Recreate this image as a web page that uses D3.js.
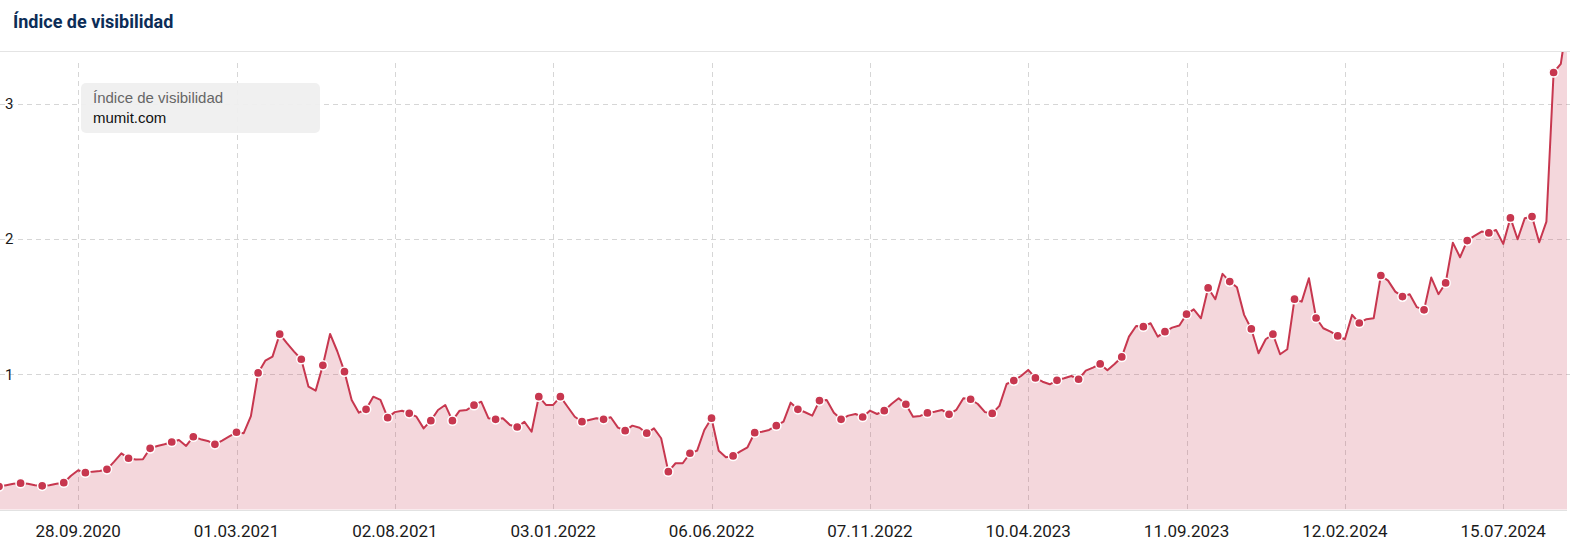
<!DOCTYPE html>
<html lang="es">
<head>
<meta charset="UTF-8">
<title>Índice de visibilidad</title>
<style>
    body { margin: 0; background: #fff; }
    .title { font: bold 18px Roboto, sans-serif; fill: #0c2d57; }
    .tick-label { font: 17px Roboto, sans-serif; fill: #1a1a1a; }
    .grid { stroke: #d6d6d6; stroke-width: 1px; stroke-dasharray: 5 4; }
    .area { fill: #c7374f; fill-opacity: 0.2; }
    .line { fill: none; stroke: #c7374f; stroke-width: 2px; stroke-linejoin: round; }
    .dot { fill: #c7374f; stroke: #fff; stroke-width: 1.5px; }
    .legend-name { font: 15px "Liberation Sans", Arial, sans-serif; fill: #666; }
    .legend-domain { font: 15px "Liberation Sans", Arial, sans-serif; fill: #111; }
</style>
</head>
<body>
<div id="chart"></div>
<script src="https://cdn.jsdelivr.net/npm/d3@7"></script>
<script>
    // weekly visibility index, first week 13.07.2020
    const firstWeek = "13.07.2020";
    const values = [
        0.17, 0.18, 0.19, 0.195, 0.19, 0.18, 0.175, 0.18, 0.19, 0.198,
        0.25, 0.29, 0.272, 0.28, 0.285, 0.297, 0.354, 0.415, 0.379, 0.37,
        0.371, 0.452, 0.47, 0.482, 0.499, 0.514, 0.47, 0.538, 0.52, 0.507,
        0.482, 0.51, 0.54, 0.571, 0.564, 0.69, 1.01, 1.10, 1.13, 1.296,
        1.23, 1.167, 1.111, 0.908, 0.879, 1.066, 1.298, 1.17, 1.019, 0.81,
        0.716, 0.741, 0.834, 0.81, 0.679, 0.72, 0.73, 0.711, 0.686, 0.60,
        0.657, 0.736, 0.773, 0.657, 0.731, 0.736, 0.771, 0.797, 0.675, 0.667,
        0.675, 0.625, 0.61, 0.649, 0.575, 0.834, 0.773, 0.773, 0.834, 0.76,
        0.686, 0.649, 0.662, 0.675, 0.667, 0.682, 0.605, 0.583, 0.62, 0.605,
        0.564, 0.60, 0.527, 0.28, 0.342, 0.342, 0.416, 0.435, 0.588, 0.675,
        0.435, 0.386, 0.396, 0.43, 0.46, 0.568, 0.575, 0.588, 0.62, 0.65,
        0.79, 0.741, 0.719, 0.694, 0.805, 0.81, 0.716, 0.667, 0.694, 0.706,
        0.684, 0.731, 0.706, 0.731, 0.78, 0.822, 0.778, 0.686, 0.692, 0.714,
        0.723, 0.736, 0.704, 0.736, 0.822, 0.815, 0.78, 0.72, 0.71, 0.766,
        0.928, 0.953, 0.987, 1.032, 0.973, 0.945, 0.926, 0.955, 0.97, 0.987,
        0.963, 1.027, 1.049, 1.076, 1.03, 1.076, 1.128, 1.278, 1.357, 1.352,
        1.377, 1.278, 1.315, 1.345, 1.36, 1.444, 1.48, 1.414, 1.638, 1.555,
        1.742, 1.685, 1.643, 1.439, 1.335, 1.155, 1.259, 1.296, 1.148, 1.185,
        1.555, 1.537, 1.71, 1.416, 1.34, 1.315, 1.283, 1.259, 1.439, 1.379,
        1.407, 1.414, 1.73, 1.692, 1.611, 1.574, 1.592, 1.496, 1.476, 1.715,
        1.592, 1.675, 1.973, 1.865, 1.988, 2.023, 2.055, 2.045, 2.067, 1.964,
        2.156, 1.998, 2.154, 2.166, 1.976, 2.129, 3.231, 3.295, 3.65
    ];
    const xTickLabels = ["28.09.2020", "01.03.2021", "02.08.2021", "03.01.2022", "06.06.2022",
        "07.11.2022", "10.04.2023", "11.09.2023", "12.02.2024", "15.07.2024"];
    const yTicks = [1, 2, 3];
    const seriesName = "Índice de visibilidad";
    const domainName = "mumit.com";

    const width = 1570, height = 546;
    const plotTop = 51, plotBottom = 509.5, plotRight = 1567;

    const parse = d3.utcParse("%d.%m.%Y");
    const start = parse(firstWeek);
    const data = values.map((v, i) => ({ date: d3.utcDay.offset(start, 7 * i), value: v, dot: i % 3 === 0 }));

    const svg = d3.select("#chart").append("svg")
        .attr("width", width)
        .attr("height", height);

    const x = d3.scaleUtc()
        .domain([data[0].date, data[data.length - 1].date])
        .range([-1, 1568]);

    const y = d3.scaleLinear()
        .domain([0, 3.39])
        .range([plotBottom, plotTop]);

    // header
    svg.append("text").attr("class", "title")
        .attr("x", 13).attr("y", 28)
        .text("Índice de visibilidad");
    svg.append("line")
        .attr("x1", 0).attr("x2", width)
        .attr("y1", 51.5).attr("y2", 51.5)
        .attr("stroke", "#e4e4e4");

    svg.append("clipPath").attr("id", "plot-clip")
        .append("rect")
        .attr("x", 0).attr("y", plotTop + 1)
        .attr("width", plotRight).attr("height", plotBottom - plotTop);

    // grid
    svg.selectAll(".ygrid")
        .data(yTicks)
        .enter().append("line")
        .attr("class", "grid")
        .attr("x1", 0).attr("x2", width)
        .attr("y1", d => Math.round(y(d)) + 0.5)
        .attr("y2", d => Math.round(y(d)) + 0.5);

    const tickDates = xTickLabels.map(parse);
    svg.selectAll(".xgrid")
        .data(tickDates)
        .enter().append("line")
        .attr("class", "grid")
        .attr("x1", d => Math.round(x(d)) + 0.5)
        .attr("x2", d => Math.round(x(d)) + 0.5)
        .attr("y1", 63).attr("y2", plotBottom);

    const plot = svg.append("g").attr("clip-path", "url(#plot-clip)");

    plot.append("path")
        .datum(data)
        .attr("class", "area")
        .attr("d", d3.area()
            .x(d => x(d.date))
            .y0(plotBottom)
            .y1(d => y(d.value)));

    plot.append("path")
        .datum(data)
        .attr("class", "line")
        .attr("d", d3.line()
            .x(d => x(d.date))
            .y(d => y(d.value)));

    plot.selectAll(".dot")
        .data(data.filter(d => d.dot))
        .enter().append("circle")
        .attr("class", "dot")
        .attr("r", 4.6)
        .attr("cx", d => x(d.date))
        .attr("cy", d => y(d.value));

    // base line of the plot
    svg.append("line")
        .attr("x1", 0).attr("x2", plotRight)
        .attr("y1", 510.5).attr("y2", 510.5)
        .attr("stroke", "#e2e2e2");

    // axis labels
    svg.selectAll(".ylabel")
        .data(yTicks)
        .enter().append("text")
        .attr("class", "tick-label")
        .attr("x", 5)
        .attr("y", d => y(d))
        .attr("dy", "0.36em")
        .style("font-size", "15px")
        .text(d => d);

    svg.selectAll(".xlabel")
        .data(tickDates)
        .enter().append("text")
        .attr("class", "tick-label")
        .attr("x", d => x(d))
        .attr("y", 537)
        .attr("text-anchor", "middle")
        .text((d, i) => xTickLabels[i]);

    // legend box
    const legend = svg.append("g").attr("transform", "translate(81,83)");
    legend.append("rect")
        .attr("width", 239).attr("height", 50)
        .attr("rx", 5)
        .attr("fill", "#efefef")
        .attr("fill-opacity", 0.95);
    legend.append("text").attr("class", "legend-name")
        .attr("x", 12).attr("y", 20)
        .text(seriesName);
    legend.append("text").attr("class", "legend-domain")
        .attr("x", 12).attr("y", 39.5)
        .text(domainName);
</script>
</body>
</html>
